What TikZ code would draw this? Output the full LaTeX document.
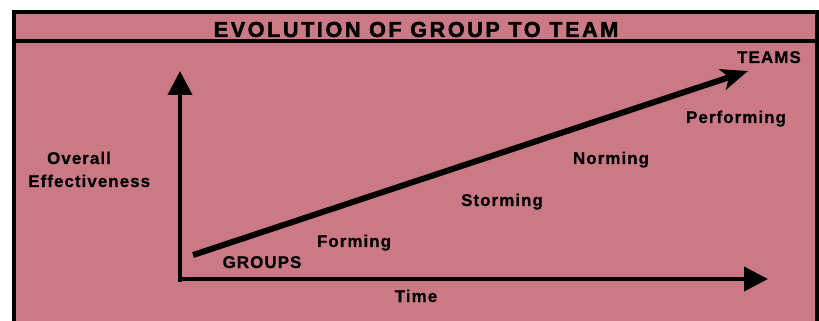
\documentclass[tikz,border=0pt]{standalone}
\usepackage{fontspec}
\setmainfont{Liberation Sans}
\newfontfamily\labfont{Liberation Sans}[LetterSpace=6,FakeBold=0.6]
\newfontfamily\titlefont{Liberation Sans}[LetterSpace=12,FakeBold=2.2]
\usetikzlibrary{arrows.meta}
\definecolor{pinkbg}{RGB}{203,122,133}
\tikzset{
  lab/.style={font=\labfont\bfseries\fontsize{12.75pt}{14pt}\selectfont, anchor=base, inner sep=0pt, text=black},
  axis/.style={line width=3pt, -{Triangle[length=18pt,width=18pt]}},
  trend/.style={line width=4.5pt, -{Stealth[length=20pt,width=16pt,inset=5pt]}},
  frame/.style={line width=3pt, draw=black}
}
\begin{document}
\begin{tikzpicture}[x=0.75pt,y=-0.75pt]
\useasboundingbox (0,0) rectangle (819,321);
\clip (0,0) rectangle (819,321);
\fill[white] (0,0) rectangle (819,321);
\draw[frame, fill=pinkbg] (14,12) rectangle (817,345);
\draw[frame] (14,41) -- (817,41);
\node[inner sep=0pt] (title) at (416,29.5) {\titlefont\bfseries\fontsize{16.2pt}{18pt}\selectfont EVOLUTION OF GROUP TO TEAM};
% axes
\coordinate (o) at (180,279);
\coordinate (ytip) at (180,71);
\coordinate (xtip) at (768,279);
\draw[axis] ([yshift=-2.25pt]o) -- (ytip);
\draw[axis] ([xshift=-1.5pt]o) -- (xtip);
% trend
\coordinate (start) at (193,255);
\coordinate (end) at (748,71);
\draw[trend] (start) -- (end);
% labels
\node[lab] (teams) at (769,63) {TEAMS};
\node[lab] (perf) at (736,123) {Performing};
\node[lab] (norm) at (611,164) {Norming};
\node[lab] (storm) at (502,206) {Storming};
\node[lab] (form) at (354,247) {Forming};
\node[lab] (groups) at (262,268) {GROUPS};
\node[lab] (time) at (416,302) {Time};
\node[lab] (overall) at (79,164) {Overall};
\node[lab, anchor=base west] (eff) at (28,187) {Effectiveness};
\end{tikzpicture}
\end{document}
